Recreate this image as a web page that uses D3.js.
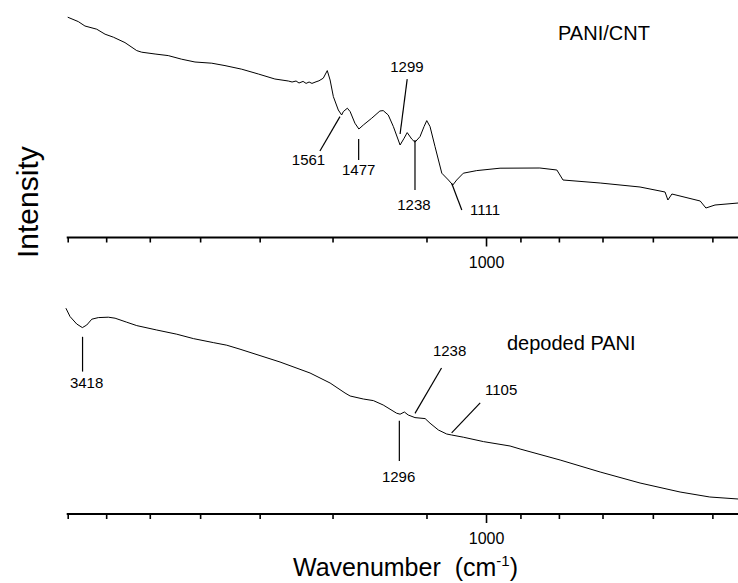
<!DOCTYPE html>
<html>
<head>
<meta charset="utf-8">
<script src="https://cdn.jsdelivr.net/npm/d3@7"></script>
<style>
  html, body { margin: 0; padding: 0; background: #fff; }
  svg { display: block; }
  text { font-family: "Liberation Sans", Arial, sans-serif; fill: #000; }
</style>
</head>
<body>
<svg id="chart" width="738" height="583"></svg>
<script>
// ---- data (wavenumber in cm^-1, intensity in arbitrary units) ----
const wnTop = [3600,3485,3415,3294,3211,3130,3021,2914,2870,2755,2646,2540,2438,2316,2224,2113,2008,1909,1832,1811,1789,1773,1751,1735,1719,1704,1683,1668,1646,1626,1612,1596,1572,1556,1548,1529,1516,1494,1476,1456,1419,1384,1370,1349,1328,1301,1285,1273,1255,1243,1224,1209,1199,1187,1169,1145,1122,1107,1094,1072,1029,958,848,805,790,705,624,578,573,566,519,510,496,462];
const intTop = [109.9,107.7,105.5,103.9,101.4,99.9,97.2,93.2,92.4,91.5,90.7,88.9,87.5,86.9,85.7,83.9,81.5,79.0,78.0,77.5,78.0,77.0,77.8,76.8,77.5,76.8,77.6,78.1,79.4,83.2,78.5,70.2,63.5,61.0,62.7,64.4,62.7,56.9,54.0,56.0,59.4,63.0,63.2,61.0,55.2,46.0,49.4,52.2,48.9,47.4,50.2,55.2,58.2,55.2,45.2,31.9,28.5,26.0,28.5,31.9,33.2,34.4,34.5,33.5,28.5,27,25,22.5,18.5,21.5,18,14.5,16,17];

const wnBot = [3620,3574,3502,3442,3396,3344,3278,3179,3114,3005,2914,2741,2578,2450,2305,2212,2124,1879,1714,1612,1540,1516,1456,1412,1370,1315,1301,1284,1269,1243,1205,1187,1157,1128,1111,1072,1008,929,901,797,705,624,552,504,462];
const intBot = [102.9,98.7,95,93.2,94.5,97.4,98.2,98.4,97.9,95.9,94.2,92,89.9,87.7,85.7,84.4,82.4,76,70.5,65.5,60.5,59,57.5,56.7,54.5,50.4,49.9,51,49.5,48.2,47.7,45.4,42,40,39.5,38.4,36.2,34,32.5,27,21,15.5,11,8.5,7.5];

const minorTicks = [3600,3200,2800,2400,2000,1600,1200,900,800,700,600,500];
const majorTicks = [1000];

const seriesNames = ["PANI/CNT", "depoded PANI"];

// peak annotations: label, leader start (wn, I), leader end (wn, I), label position (wn, I), anchor
const annTop = [
  {t:"1561", w1:1564, i1:60.2, w2:1663, i2:43,   wl:1722, il:36,   a:"middle"},
  {t:"1477", w1:1477, i1:49,   w2:1477, i2:38.5, wl:1477, il:31,   a:"middle"},
  {t:"1299", w1:1273, i1:78.9, w2:1301, i2:51.5, wl:1274, il:82.5, a:"middle"},
  {t:"1238", w1:1243, i1:48.5, w2:1243, i2:23.5, wl:1247, il:13.5, a:"middle"},
  {t:"1111", w1:1111, i1:26.9, w2:1077, i2:13.5, wl:1050, il:11,   a:"start"}
];
const annBot = [
  {t:"3418", w1:3440, i1:88.6, w2:3440, i2:71.2, wl:3398, il:63,   a:"middle"},
  {t:"1296", w1:1304, i1:46.6, w2:1304, i2:26.5, wl:1307, il:16.2, a:"middle"},
  {t:"1238", w1:1243, i1:50.3, w2:1146, i2:73,   wl:1118, il:79,   a:"middle"},
  {t:"1105", w1:1111, i1:40.6, w2:1018, i2:55.6, wl:1003, il:59.5, a:"start"}
];

// ---- scales ----
const svg = d3.select("#chart");
const x = d3.scaleLog().domain([3620, 462]).range([65.9, 738.2]);
const yTop = d3.scaleLinear().domain([0, 120]).range([237, -3]);
const yBot = d3.scaleLinear().domain([0, 120]).range([514, 274]);
const axisY = [237.5, 514];

function panel(wn, vals, y, ann, ay, name, nameX, nameY) {
  const pts = wn.map((w, i) => [w, vals[i]]);
  svg.append("path")
    .datum(pts)
    .attr("fill", "none")
    .attr("stroke", "#000")
    .attr("stroke-width", 1)
    .attr("stroke-linejoin", "round")
    .attr("d", d3.line().x(d => x(d[0])).y(d => y(d[1])));

  // axis
  const g = svg.append("g").attr("transform", `translate(0,${ay})`);
  g.append("line").attr("x1", x(3600) - 1).attr("x2", 738).attr("y1", 0).attr("y2", 0)
    .attr("stroke", "#000").attr("stroke-width", 2);
  const minorAxis = d3.axisBottom(x).tickValues(minorTicks).tickSize(5).tickFormat("");
  const majorAxis = d3.axisBottom(x).tickValues(majorTicks).tickSize(9).tickPadding(10)
    .tickFormat(d3.format("d"));
  const gm = g.append("g").call(minorAxis);
  const gM = g.append("g").call(majorAxis);
  [gm, gM].forEach(a => {
    a.select(".domain").remove();
    a.selectAll(".tick line").attr("stroke", "#000").attr("stroke-width", 1.6);
  });
  gM.selectAll(".tick text")
    .style("font-family", '"Liberation Sans", Arial, sans-serif')
    .attr("font-size", 16).attr("fill", "#000");

  // annotations
  ann.forEach(a => {
    svg.append("line")
      .attr("x1", x(a.w1)).attr("y1", y(a.i1))
      .attr("x2", x(a.w2)).attr("y2", y(a.i2))
      .attr("stroke", "#000").attr("stroke-width", 1.2);
    svg.append("text")
      .attr("x", x(a.wl)).attr("y", y(a.il))
      .attr("text-anchor", a.a)
      .attr("font-size", 15)
      .text(a.t);
  });

  svg.append("text").attr("x", nameX).attr("y", nameY)
    .attr("font-size", 20).text(name);
}

panel(wnTop, intTop, yTop, annTop, axisY[0], seriesNames[0], 558, 40);
panel(wnBot, intBot, yBot, annBot, axisY[1], seriesNames[1], 507, 350);

// axis titles
svg.append("text")
  .attr("transform", "translate(38,258) rotate(-90)")
  .attr("text-anchor", "start")
  .attr("font-size", 30)
  .text("Intensity");

const xt = svg.append("text")
  .attr("x", 293).attr("y", 576)
  .attr("font-size", 25)
  .style("white-space", "pre");
xt.append("tspan").text("Wavenumber  (cm");
xt.append("tspan").attr("dy", -10).attr("font-size", 15).text("-1");
xt.append("tspan").attr("dy", 10).text(")");
</script>
</body>
</html>
